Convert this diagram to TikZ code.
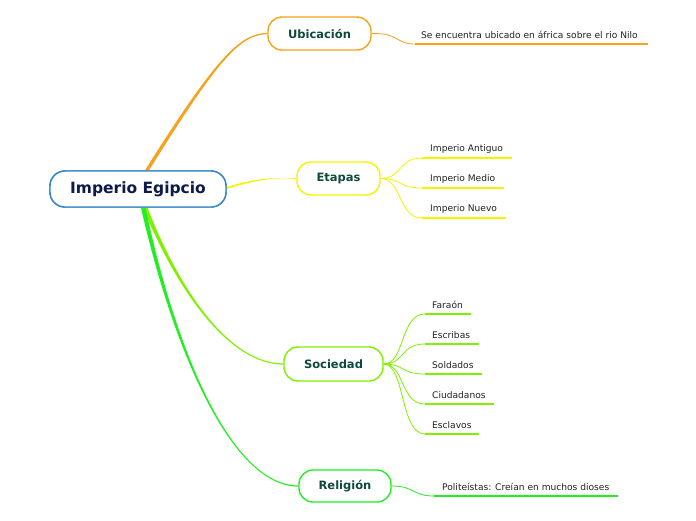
\documentclass[tikz,border=0pt]{standalone}
\usepackage{fontspec}
\setmainfont{DejaVu Sans}
\begin{document}
\begin{tikzpicture}[x=1pt,y=-1pt]
\definecolor{cOr}{HTML}{F7A21B}
\definecolor{cYe}{HTML}{F4F400}
\definecolor{cLi}{HTML}{80F000}
\definecolor{cGr}{HTML}{22EE22}
\definecolor{cBl}{HTML}{3385CC}
\definecolor{cTopic}{HTML}{0E4A3A}
\definecolor{cMain}{HTML}{0D1A4A}
\definecolor{cLeaf}{HTML}{222222}
\tikzset{
  mainbox/.style={draw=cBl,line width=1.4pt,fill=white,rounded corners=15pt,minimum width=176pt,minimum height=36pt,inner sep=0pt,font=\fontsize{15.5}{18}\selectfont\bfseries,text=cMain},
  topicbox/.style={line width=1.4pt,fill=white,rounded corners=14pt,minimum height=33pt,inner sep=0pt,font=\fontsize{11.5}{14}\selectfont\bfseries,text=cTopic},
  leaf/.style={anchor=south west,inner sep=0pt,font=\fontsize{9.1}{11}\selectfont,text=cLeaf},
  uline/.style={line width=2pt},
  conn/.style={line width=0.8pt}
}
\useasboundingbox (0,0) rectangle (696,520);
\fill[white] (0,0) rectangle (696,520);

% main and topics
\node[mainbox] (main) at (138,189) {Imperio Egipcio};
\node[topicbox,draw=cOr,minimum width=103pt] (ubic) at (319.5,33.5) {Ubicación};
\node[topicbox,draw=cYe,minimum width=83pt] (etap) at (338.5,178.5) {Etapas};
\node[topicbox,draw=cLi,minimum width=99pt,minimum height=34pt] (soc) at (333.5,364) {Sociedad};
\node[topicbox,draw=cGr,minimum width=92pt,minimum height=32pt] (rel) at (345,486) {Religión};

% main connectors (tapered)
\fill[cOr] ([xshift=7pt]main.north) .. controls (217,56) and (240,33.5) .. ([yshift=0.6pt]ubic.west)
  -- ([yshift=-0.6pt]ubic.west) .. controls (240,35) and (219,58) .. ([xshift=11pt]main.north) -- cycle;
\fill[cYe] (main.east) .. controls (255,180) and (270,178) .. ([yshift=0.5pt]etap.west)
  -- ([yshift=-0.5pt]etap.west) .. controls (270,177) and (255,178.5) .. ([yshift=2pt]main.east) -- cycle;
\fill[cLi] ([xshift=5pt]main.south) .. controls (178,293) and (230,364.5) .. ([yshift=-0.6pt]soc.west)
  -- ([yshift=0.6pt]soc.west) .. controls (230,363.5) and (180,291.5) .. ([xshift=9.5pt]main.south) -- cycle;
\fill[cGr] ([xshift=3pt]main.south) .. controls (172,345) and (230,486.5) .. ([yshift=-0.6pt]rel.west)
  -- ([yshift=0.6pt]rel.west) .. controls (230,485.5) and (174,343.5) .. ([xshift=7.5pt]main.south) -- cycle;
\node[mainbox] at (main) {Imperio Egipcio};

% Ubicacion leaf
\coordinate (u1a) at (415,44); \coordinate (u1b) at (648,44);
\draw[cOr,conn] (ubic.east) .. controls (400,33) and (395,44) .. (u1a);
\draw[cOr,uline] (u1a) -- (u1b);
\node[leaf] (u1t) at (421,39) {Se encuentra ubicado en áfrica sobre el rio Nilo};

% Etapas leaves
\foreach \n/\y/\xe/\t in {1/158/512/Imperio Antiguo,2/188/504/Imperio Medio,3/218/506/Imperio Nuevo}{
  \coordinate (e\n a) at (422,\y);
  \coordinate (e\n b) at (\xe,\y);
  \draw[cYe,conn] (etap.east) .. controls (402,178.5) and (398,\y) .. (e\n a);
  \draw[cYe,uline] (e\n a) -- (e\n b);
  \node[leaf] (e\n t) at (430,\y-4) {\t};
}

% Sociedad leaves
\foreach \n/\y/\xe/\t in {1/314/471/Faraón,2/344/479/Escribas,3/374/482/Soldados,4/404/494/Ciudadanos,5/434/479/Esclavos}{
  \coordinate (s\n a) at (425,\y);
  \coordinate (s\n b) at (\xe,\y);
  \draw[cLi,conn] (soc.east) .. controls (405,364) and (400,\y) .. (s\n a);
  \draw[cLi,uline] (s\n a) -- (s\n b);
  \node[leaf] (s\n t) at (432,\y-5) {\t};
}

% Religion leaf
\coordinate (r1a) at (434,496); \coordinate (r1b) at (618,496);
\draw[cGr,conn] (rel.east) .. controls (415,486) and (412,496) .. (r1a);
\draw[cGr,uline] (r1a) -- (r1b);
\node[leaf] (r1t) at (442,491) {Politeístas: Creían en muchos dioses};
\end{tikzpicture}
\end{document}
